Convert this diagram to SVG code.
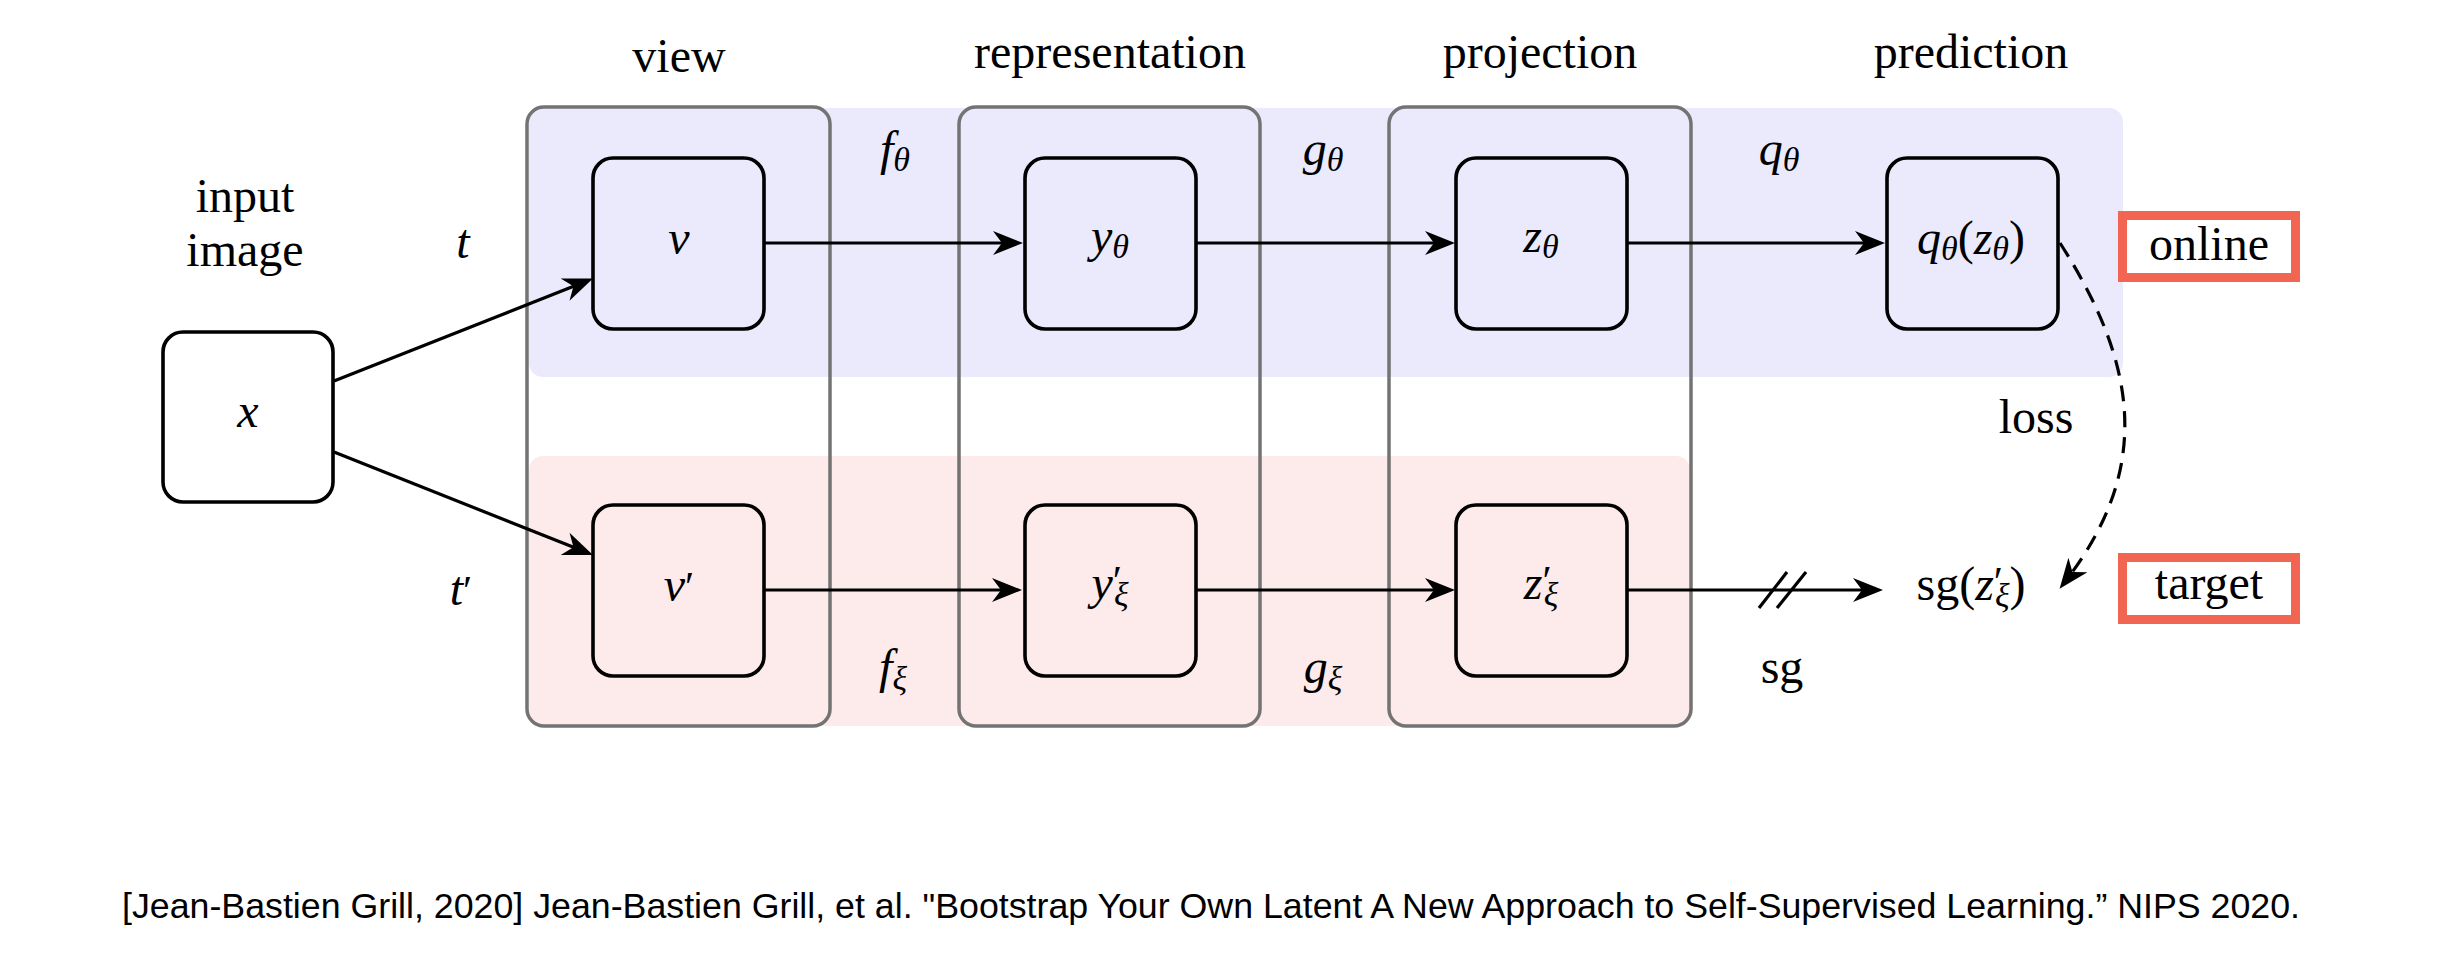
<svg xmlns="http://www.w3.org/2000/svg" width="2438" height="962" viewBox="0 0 2438 962">
<style>
  .lbl { font-family: "Liberation Serif", "Times New Roman", serif; font-size: 48px; fill: #000; text-anchor: middle; }
  .m { font-style: italic; }
  .up { font-style: normal; }
  .sub { font-size: 34px; font-style: italic; }
  .pr { font-size: 42px; font-style: normal; }
  .col { fill: none; stroke: #737373; stroke-width: 3.5; }
  .node { fill: none; stroke: #000; stroke-width: 3.6; }
  .arr { fill: none; stroke: #000; stroke-width: 3.2; }
  .tag { fill: #fff; stroke: #f26552; stroke-width: 9; }
  .cap { font-family: "Liberation Sans", Arial, sans-serif; font-size: 35px; fill: #000; }
</style>
<defs>
  <marker id="ah" markerUnits="userSpaceOnUse" viewBox="-32 -14 34 28" markerWidth="34" markerHeight="28" refX="-10" refY="0" orient="auto">
    <path d="M0,0 L-30,-12 L-21,0 L-30,12 Z" fill="#000"/>
  </marker>
</defs>
<rect width="2438" height="962" fill="#fff"/>

<g id="bands">
  <rect id="online-band" x="529" y="108" width="1594" height="269" rx="14" fill="#eaeafc"/>
  <rect id="target-band" x="529" y="456" width="1161" height="270" rx="14" fill="#fdebeb"/>
</g>

<g id="columns">
  <rect id="col-view" class="col" x="527" y="107" width="303" height="619" rx="17"/>
  <rect id="col-representation" class="col" x="959" y="107" width="301" height="619" rx="17"/>
  <rect id="col-projection" class="col" x="1389" y="107" width="302" height="619" rx="17"/>
</g>

<g id="headers">
  <text class="lbl" x="245" y="212">input</text>
  <text class="lbl" x="245" y="266">image</text>
  <text class="lbl" x="679" y="72">view</text>
  <text class="lbl" x="1110" y="68">representation</text>
  <text class="lbl" x="1540" y="68">projection</text>
  <text class="lbl" x="1971" y="68">prediction</text>
</g>

<g id="node-x"><rect class="node" x="163" y="332" width="170" height="170" rx="20"/><text class="lbl m" x="248" y="427">x</text></g>
<g id="node-v"><rect class="node" x="593" y="158" width="171" height="171" rx="20"/><text class="lbl m" x="679" y="254">v</text></g>
<g id="node-y"><rect class="node" x="1025" y="158" width="171" height="171" rx="20"/><text class="lbl m" x="1110" y="252">y<tspan class="sub" dy="6">θ</tspan></text></g>
<g id="node-z"><rect class="node" x="1456" y="158" width="171" height="171" rx="20"/><text class="lbl m" x="1541" y="252">z<tspan class="sub" dy="6">θ</tspan></text></g>
<g id="node-q"><rect class="node" x="1887" y="158" width="171" height="171" rx="20"/><text class="lbl m" x="1971" y="254">q<tspan class="sub" dy="6">θ</tspan><tspan class="up" dy="-6">(</tspan>z<tspan class="sub" dy="6">θ</tspan><tspan class="up" dy="-6">)</tspan></text></g>
<g id="node-v2"><rect class="node" x="593" y="505" width="171" height="171" rx="20"/><text class="lbl m" x="679" y="601">v<tspan class="pr">′</tspan></text></g>
<g id="node-y2"><rect class="node" x="1025" y="505" width="171" height="171" rx="20"/><text class="lbl m" x="1110" y="599">y<tspan class="pr" dy="-4">′</tspan><tspan class="sub" dx="-8" dy="11">ξ</tspan></text></g>
<g id="node-z2"><rect class="node" x="1456" y="505" width="171" height="171" rx="20"/><text class="lbl m" x="1541" y="599">z<tspan class="pr" dy="-4">′</tspan><tspan class="sub" dx="-8" dy="11">ξ</tspan></text></g>
<g id="node-sg"><text class="lbl up" x="1971" y="600">sg(<tspan class="m">z</tspan><tspan class="pr" dy="-4">′</tspan><tspan class="sub" dx="-8" dy="11">ξ</tspan><tspan dy="-7">)</tspan></text></g>

<g id="node-online"><rect class="tag" x="2122.5" y="215.5" width="173" height="62"/><text class="lbl" x="2209" y="260">online</text></g>
<g id="node-target"><rect class="tag" x="2122.5" y="557.5" width="173" height="62"/><text class="lbl" x="2209" y="599">target</text></g>

<g id="connectors">
  <line class="arr" x1="334" y1="381" x2="583.7" y2="282.3" marker-end="url(#ah)"/>
  <line class="arr" x1="334" y1="452" x2="583.7" y2="551.3" marker-end="url(#ah)"/>
  <line class="arr" x1="764" y1="243" x2="1013" y2="243" marker-end="url(#ah)"/>
  <line class="arr" x1="1196" y1="243" x2="1445" y2="243" marker-end="url(#ah)"/>
  <line class="arr" x1="1627" y1="243" x2="1875" y2="243" marker-end="url(#ah)"/>
  <line class="arr" x1="764" y1="590" x2="1012" y2="590" marker-end="url(#ah)"/>
  <line class="arr" x1="1196" y1="590" x2="1445" y2="590" marker-end="url(#ah)"/>
  <line class="arr" x1="1627" y1="590" x2="1873" y2="590" marker-end="url(#ah)"/>
  <line class="arr" x1="1759" y1="608" x2="1787" y2="572"/>
  <line class="arr" x1="1777" y1="608" x2="1806" y2="572"/>
  <path class="arr" d="M2060,243 C2135,360 2155,465 2065.7,580.8" stroke-dasharray="16 10" marker-end="url(#ah)"/>
</g>

<g id="edge-labels">
  <text class="lbl m" x="463" y="258">t</text>
  <text class="lbl m" x="461" y="605">t<tspan class="pr">′</tspan></text>
  <text class="lbl m" x="895" y="165">f<tspan class="sub" dy="6">θ</tspan></text>
  <text class="lbl m" x="1323" y="165">g<tspan class="sub" dy="6">θ</tspan></text>
  <text class="lbl m" x="1779" y="165">q<tspan class="sub" dy="6">θ</tspan></text>
  <text class="lbl m" x="893" y="683">f<tspan class="sub" dy="7">ξ</tspan></text>
  <text class="lbl m" x="1323" y="683">g<tspan class="sub" dy="7">ξ</tspan></text>
  <text class="lbl" x="1782" y="683">sg</text>
  <text class="lbl" x="2036" y="433">loss</text>
</g>

<g id="caption">
  <text class="cap" x="122" y="918" textLength="2178" lengthAdjust="spacingAndGlyphs">[Jean-Bastien Grill, 2020] Jean-Bastien Grill, et al. "Bootstrap Your Own Latent A New Approach to Self-Supervised Learning.” NIPS 2020.</text>
</g>
</svg>
